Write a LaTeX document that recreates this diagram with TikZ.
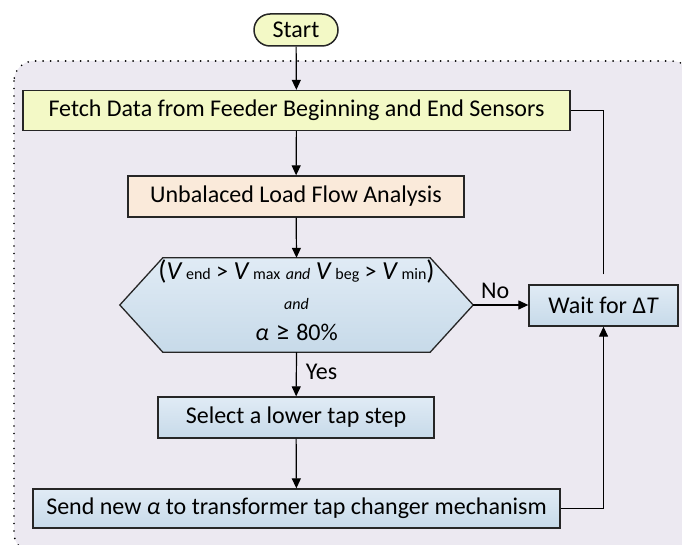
\documentclass[tikz,border=0pt]{standalone}
\usepackage{fontspec}
\setmainfont{Carlito}
\usetikzlibrary{arrows.meta,calc}
\definecolor{panel}{RGB}{236,233,241}
\definecolor{limefill}{RGB}{243,249,198}
\definecolor{peach}{RGB}{250,234,218}
\definecolor{blueTop}{RGB}{224,235,245}
\definecolor{blueBot}{RGB}{199,218,233}
\newcommand{\sm}[1]{{\fontsize{16}{19}\selectfont #1}}
\newcommand{\bigV}{{\fontsize{26}{28}\selectfont\textit{V}}\hspace{3.5pt}}
\begin{document}
\begin{tikzpicture}[x=1pt,y=-1pt,
  every node/.style={font=\fontsize{24}{28}\selectfont, inner sep=0pt},
  box/.style={draw=black!85, line width=1.3pt, anchor=center},
  bluebox/.style={box, top color=blueTop, bottom color=blueBot},
  flow/.style={line width=1.2pt, -{Triangle[length=10pt,width=9pt]}},
  plain/.style={line width=1.2pt},
]
\useasboundingbox (0,0) rectangle (682,545);
% shaded panel behind the main loop
\begin{scope}
  \clip (0,0) rectangle (682,545);
  \draw[fill=panel, line width=1.9pt, dash pattern=on 0pt off 7.5pt, line cap=round,
        rounded corners=20pt] (14,61) rectangle (692,553);
\end{scope}

% process steps
\node[box, rounded corners=16pt, fill=limefill, line width=1.5pt, minimum width=84pt, minimum height=32pt]
  (start) at (296,30) {Start};
\node[box, fill=limefill, minimum width=547pt, minimum height=40pt]
  (fetch) at (296.5,110.5) {Fetch Data from Feeder Beginning and End Sensors};
\node[box, fill=peach, minimum width=336pt, minimum height=41pt]
  (lf) at (296,196.5) {Unbalaced Load Flow Analysis};

% decision hexagon
\node[minimum width=267pt, minimum height=94pt] (dec) at (296.5,305) {};
\shade[top color=blueTop, bottom color=blueBot, draw=black!85, line width=1.3pt]
  (dec.north west) -- (dec.north east) -- ($(dec.east)+(43,0)$) coordinate (decR)
  -- (dec.south east) -- (dec.south west) -- ($(dec.west)-(43,0)$) coordinate (decL) -- cycle;
\node (c1) at (296.5,271) {{\fontsize{27}{28}\selectfont(}\bigV\sm{end} > \bigV\sm{max} \sm{\textit{and}} \bigV\sm{beg} > \bigV\sm{min}{\fontsize{27}{28}\selectfont)}};
\node (c2) at (296.5,304) {\sm{\textit{and}}};
\node (c3) at (296.5,332) {\textit{α}\hspace{7pt}{\fontsize{27}{28}\selectfont ≥}\hspace{7pt}80\%};

\node[bluebox, minimum width=276pt, minimum height=41pt]
  (sel) at (296,417.5) {Select a lower tap step};
\node[bluebox, minimum width=527pt, minimum height=39pt]
  (send) at (296.5,508.5) {Send new \textit{α} to transformer tap changer mechanism};
\node[bluebox, minimum width=149pt, minimum height=41pt]
  (wait) at (603.5,305.5) {Wait for Δ\textit{T}};

% connectors
\draw[flow] (start) -- (fetch);
\draw[flow] (fetch) -- (lf);
\draw[flow] (lf) -- (dec.north);
\draw[flow] (dec.south) -- node[pos=0.45, right=9pt] (yes) {Yes} (sel);
\draw[flow] (sel) -- (send);
\draw[flow] (decR) -- node[pos=0.4, above=6pt] (no) {No} (decR -| wait.west);
\draw[flow] (send.east) -| (wait.south);
\draw[plain, shorten <=10pt] (wait.north) |- (fetch.east);
\end{tikzpicture}
\end{document}
